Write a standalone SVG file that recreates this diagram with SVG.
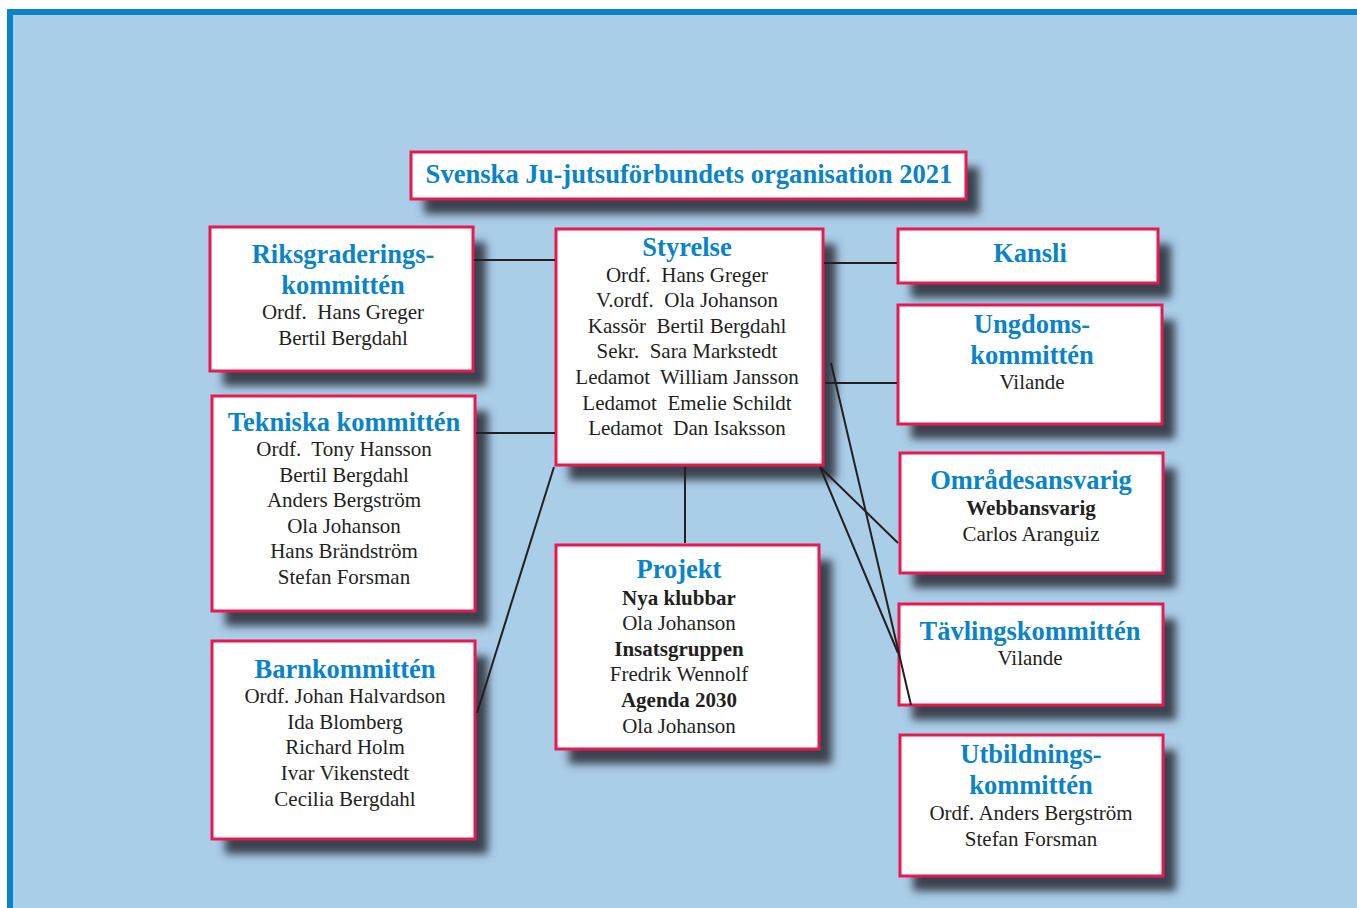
<svg xmlns="http://www.w3.org/2000/svg" width="1357" height="908" viewBox="0 0 1357 908">
<defs>
<filter id="blur" x="-15%" y="-15%" width="130%" height="140%"><feGaussianBlur stdDeviation="4"/></filter>
</defs>
<style>
.box{fill:#ffffff;stroke:#e8194f;stroke-width:3}
.sh{fill:#3b4350;filter:url(#blur)}
text{font-family:"Liberation Serif","Times New Roman",serif;text-anchor:middle;white-space:pre}
.h{font-size:26.5px;font-weight:bold;fill:#0a84c8}
.t{font-size:26.6px;font-weight:bold;fill:#0a84c8}
.n{font-size:21px;fill:#231f20}
.b{font-size:21px;font-weight:bold;fill:#231f20}
.c{stroke:#231f20;stroke-width:2;fill:none}
</style>
<rect x="10" y="12" width="1400" height="1000" fill="#aacde8" stroke="#0a84c8" stroke-width="6"/>

<g id="title">
<rect class="sh" x="424" y="167" width="555" height="47"/>
<rect class="box" x="411" y="152" width="555" height="47"/>
<text class="t" x="689" y="183">Svenska Ju-jutsuförbundets organisation 2021</text>
</g>

<g id="riks">
<rect class="sh" x="223" y="242" width="263" height="144"/>
<rect class="box" x="210" y="227" width="263" height="144"/>
<text class="h" x="343" y="263">Riksgraderings-</text>
<text class="h" x="343" y="294">kommittén</text>
<text class="n" x="343" y="319">Ordf.  Hans Greger</text>
<text class="n" x="343" y="345">Bertil Bergdahl</text>
</g>

<g id="styrelse">
<rect class="sh" x="569" y="244" width="267" height="236"/>
<rect class="box" x="556" y="229" width="267" height="236"/>
<text class="h" x="687" y="256">Styrelse</text>
<text class="n" x="687" y="282">Ordf.  Hans Greger</text>
<text class="n" x="687" y="307">V.ordf.  Ola Johanson</text>
<text class="n" x="687" y="333">Kassör  Bertil Bergdahl</text>
<text class="n" x="687" y="358">Sekr.  Sara Markstedt</text>
<text class="n" x="687" y="384">Ledamot  William Jansson</text>
<text class="n" x="687" y="410">Ledamot  Emelie Schildt</text>
<text class="n" x="687" y="435">Ledamot  Dan Isaksson</text>
</g>

<g id="kansli">
<rect class="sh" x="911" y="244" width="260" height="54"/>
<rect class="box" x="898" y="229" width="260" height="54"/>
<text class="h" x="1030" y="262">Kansli</text>
</g>

<g id="ungdom">
<rect class="sh" x="911" y="320" width="264" height="119"/>
<rect class="box" x="898" y="305" width="264" height="119"/>
<text class="h" x="1032" y="333">Ungdoms-</text>
<text class="h" x="1032" y="364">kommittén</text>
<text class="n" x="1032" y="389">Vilande</text>
</g>

<g id="tekniska">
<rect class="sh" x="225" y="411" width="263" height="215"/>
<rect class="box" x="212" y="396" width="263" height="215"/>
<text class="h" x="344" y="431">Tekniska kommittén</text>
<text class="n" x="344" y="456">Ordf.  Tony Hansson</text>
<text class="n" x="344" y="482">Bertil Bergdahl</text>
<text class="n" x="344" y="507">Anders Bergström</text>
<text class="n" x="344" y="533">Ola Johanson</text>
<text class="n" x="344" y="558">Hans Brändström</text>
<text class="n" x="344" y="584">Stefan Forsman</text>
</g>

<g id="omrade">
<rect class="sh" x="913" y="468" width="263" height="120"/>
<rect class="box" x="900" y="453" width="263" height="120"/>
<text class="h" x="1031" y="489">Områdesansvarig</text>
<text class="b" x="1031" y="515">Webbansvarig</text>
<text class="n" x="1031" y="541">Carlos Aranguiz</text>
</g>

<g id="projekt">
<rect class="sh" x="569" y="560" width="263" height="204"/>
<rect class="box" x="556" y="545" width="263" height="204"/>
<text class="h" x="679" y="578">Projekt</text>
<text class="b" x="679" y="605">Nya klubbar</text>
<text class="n" x="679" y="630">Ola Johanson</text>
<text class="b" x="679" y="656">Insatsgruppen</text>
<text class="n" x="679" y="681">Fredrik Wennolf</text>
<text class="b" x="679" y="707">Agenda 2030</text>
<text class="n" x="679" y="733">Ola Johanson</text>
</g>

<g id="tavling">
<rect class="sh" x="912" y="619" width="264" height="101"/>
<rect class="box" x="899" y="604" width="264" height="101"/>
<text class="h" x="1030" y="640">Tävlingskommittén</text>
<text class="n" x="1030" y="665">Vilande</text>
</g>

<g id="barn">
<rect class="sh" x="225" y="656" width="263" height="198"/>
<rect class="box" x="212" y="641" width="263" height="198"/>
<text class="h" x="345" y="678">Barnkommittén</text>
<text class="n" x="345" y="703">Ordf. Johan Halvardson</text>
<text class="n" x="345" y="729">Ida Blomberg</text>
<text class="n" x="345" y="754">Richard Holm</text>
<text class="n" x="345" y="780">Ivar Vikenstedt</text>
<text class="n" x="345" y="806">Cecilia Bergdahl</text>
</g>

<g id="utbildning">
<rect class="sh" x="913" y="750" width="263" height="141"/>
<rect class="box" x="900" y="735" width="263" height="141"/>
<text class="h" x="1031" y="763">Utbildnings-</text>
<text class="h" x="1031" y="794">kommittén</text>
<text class="n" x="1031" y="820">Ordf. Anders Bergström</text>
<text class="n" x="1031" y="846">Stefan Forsman</text>
</g>

<g id="connectors">
<line class="c" x1="474" y1="260" x2="555" y2="260"/>
<line class="c" x1="476" y1="433" x2="555" y2="433"/>
<line class="c" x1="554" y1="467" x2="477" y2="713"/>
<line class="c" x1="824" y1="263" x2="897" y2="263"/>
<line class="c" x1="825" y1="383" x2="897" y2="383"/>
<line class="c" x1="831" y1="363" x2="911" y2="705"/>
<line class="c" x1="820" y1="467" x2="898" y2="543"/>
<line class="c" x1="820" y1="467" x2="898" y2="653"/>
<line class="c" x1="685" y1="467" x2="685" y2="543"/>
</g>
</svg>
